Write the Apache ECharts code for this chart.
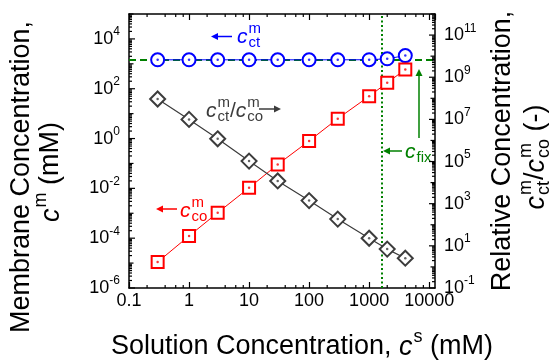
<!DOCTYPE html>
<html>
<head>
<meta charset="utf-8">
<script src="https://cdn.jsdelivr.net/npm/echarts@6/dist/echarts.min.js"></script>
<style>
  html, body { margin: 0; padding: 0; background: #fff; }
  #main { width: 556px; height: 362px; }
</style>
</head>
<body>
<div id="main"></div>
<script>
// solution concentration c^s (mM)
const concentrations = [0.3, 1, 3, 10, 30, 100, 300, 1000, 2000, 4000];
// membrane counter-ion concentration c_ct^m (mM)
const counterIon = [1450, 1450, 1450, 1450, 1450, 1450, 1450, 1460, 1590, 2140];
// membrane co-ion concentration c_co^m (mM)
const coIon = [1.1e-5, 1.23e-4, 1.05e-3, 0.0105, 0.091, 0.80, 6.3, 50, 174, 590];
// ratio c_ct^m / c_co^m (right axis)
const ionRatio = [9.3e7, 1.0e7, 1.2e6, 1.05e5, 1.2e4, 1.4e3, 186, 23, 7, 2.6];
// c_fix guide lines
const fixLineX = 1600;
const fixLineY = 1450;

// tick labels
const xTickLabels = ['0.1', '1', '10', '100', '1000', '10000'];
const leftTickExponents = [-6, -4, -2, 0, 2, 4];
const rightTickExponents = [-1, 1, 3, 5, 7, 9, 11];
const minorSteps = [2, 3, 4, 5, 6, 7, 8, 9];
const xMinorSteps = [2, 4, 6, 8];

const BLUE = '#0000ff', RED = '#ff0000', GREEN = '#008000', GRAY = '#3c3c3c';
const FONT = '"Liberation Sans"';

const measure = document.createElement('canvas').getContext('2d');
function textWidth(t, font) { measure.font = font; return measure.measureText(t).width; }

// lay out text pieces left to right, y = 0 is the middle of the big text
// piece: {t, i} normal/italic text, or {sup, sub} stacked scripts
function richRun(pieces, size, color, ratio) {
  const small = Math.round(size * (ratio || 0.65));
  const fN = size + 'px ' + FONT, fI = 'italic ' + fN, fS = small + 'px ' + FONT;
  const kids = [];
  let x = 0;
  const txt = (t, px, py, f) => ({
    type: 'text', x: px, y: py,
    style: { text: t, font: f, fill: color, textAlign: 'left', textVerticalAlign: 'middle' }
  });
  pieces.forEach(p => {
    if (p.sup !== undefined || p.sub !== undefined) {
      let w = 0;
      if (p.sup) { kids.push(txt(p.sup, x, -size * 0.38, fS)); w = Math.max(w, textWidth(p.sup, fS)); }
      if (p.sub) { kids.push(txt(p.sub, x, size * 0.3, fS)); w = Math.max(w, textWidth(p.sub, fS)); }
      x += w;
    } else {
      const f = p.i ? fI : fN;
      kids.push(txt(p.t, x, 0, f));
      x += textWidth(p.t, f) + (p.i ? 1 : 0);
    }
  });
  return { kids: kids, width: x };
}

function label(pieces, size, color, x, y, opts) {
  opts = opts || {};
  const run = richRun(pieces, size, color, opts.ratio);
  const shift = opts.center ? -run.width / 2 : 0;
  run.kids.forEach(k => { k.x += shift; });
  return { type: 'group', x: x, y: y, rotation: opts.rotation || 0, children: run.kids, z: 100 };
}

function arrow(x1, y1, x2, y2, color) {
  const ang = Math.atan2(y2 - y1, x2 - x1), L = 7, W = 3.5;
  const bx = x2 - L * Math.cos(ang), by = y2 - L * Math.sin(ang);
  const px = -Math.sin(ang) * W, py = Math.cos(ang) * W;
  return [
    { type: 'line', z: 100, shape: { x1: x1, y1: y1, x2: bx, y2: by }, style: { stroke: color, lineWidth: 1.5 } },
    { type: 'polygon', z: 100, shape: { points: [[x2, y2], [bx + px, by + py], [bx - px, by - py]] }, style: { fill: color } }
  ];
}

// tick rows [1, value, length]
function decadeTicks(lo, hi, labelled) {
  const rows = [];
  for (let e = lo; e <= hi; e++) {
    const d = Math.pow(10, e);
    rows.push([1, d, labelled.includes(e) ? 6 : 4.5]);
    if (e < hi) minorSteps.forEach(s => rows.push([1, s * d, 3]));
  }
  return rows;
}
const leftTickRows = decadeTicks(-6, 5, leftTickExponents);
const rightTickRows = decadeTicks(-1, 12, rightTickExponents);
const xMinorRows = [];
for (let e = -1; e <= 3; e++) xMinorSteps.forEach(s => xMinorRows.push([s * Math.pow(10, e), 1]));

function yTickRenderer(side) {
  return function (params, api) {
    const cs = params.coordSys;
    const y = api.coord([1, api.value(1)])[1];
    const len = api.value(2);
    const x0 = side === 'left' ? cs.x : cs.x + cs.width;
    const x1 = side === 'left' ? x0 + len : x0 - len;
    return { type: 'line', shape: { x1: x0, y1: y, x2: x1, y2: y }, style: { stroke: '#000', lineWidth: 1.2 } };
  };
}
function yLabelRenderer(side) {
  return function (params, api) {
    const cs = params.coordSys;
    const y = api.coord([1, api.value(1)])[1];
    const run = richRun([{ t: '10' }, { sup: String(api.value(2)) }], 18, '#000', 0.67);
    const x = side === 'left' ? cs.x - 9 - run.width : cs.x + cs.width + 9;
    return { type: 'group', x: x, y: y, children: run.kids };
  };
}
function xMinorRenderer(params, api) {
  const cs = params.coordSys;
  const x = api.coord([api.value(0), 1])[0];
  const b = cs.y + cs.height;
  return {
    type: 'group', children: [
      { type: 'line', shape: { x1: x, y1: b, x2: x, y2: b - 3 }, style: { stroke: '#000', lineWidth: 1.2 } },
      { type: 'line', shape: { x1: x, y1: cs.y, x2: x, y2: cs.y + 3 }, style: { stroke: '#000', lineWidth: 1.2 } }
    ]
  };
}

const frameLine = { show: true, onZero: false, lineStyle: { color: '#000', width: 1.5 } };

const chart = echarts.init(document.getElementById('main'));
chart.setOption({
  animation: false,
  backgroundColor: '#fff',
  grid: { left: 129, right: 121, top: 14, bottom: 74 },
  xAxis: [{
    type: 'log', min: 0.1, max: 12500,
    axisLine: frameLine,
    axisTick: { show: true, inside: true, length: 6, lineStyle: { color: '#000', width: 1.2 } },
    axisLabel: {
      color: '#000', fontSize: 18, fontFamily: 'Liberation Sans', margin: 4, showMaxLabel: false,
      formatter: function (v) {
        const e = Math.log10(v), r = Math.round(e);
        if (Math.abs(e - r) > 1e-6) return '';
        return xTickLabels[r + 1] || '';
      }
    },
    splitLine: { show: false }
  }, {
    type: 'log', min: 0.1, max: 12500, position: 'top',
    axisLine: frameLine,
    axisTick: { show: true, inside: true, length: 6, lineStyle: { color: '#000', width: 1.2 } },
    axisLabel: { show: false },
    splitLine: { show: false }
  }],
  yAxis: [{
    type: 'log', min: 1e-6, max: 1e5, position: 'left',
    axisLine: frameLine, axisTick: { show: false }, axisLabel: { show: false }, splitLine: { show: false }
  }, {
    type: 'log', min: 0.1, max: 1e12, position: 'right',
    axisLine: frameLine, axisTick: { show: false }, axisLabel: { show: false }, splitLine: { show: false }
  }],
  series: [
    {
      // c_fix guide lines
      type: 'line', data: [], z: 1,
      markLine: {
        silent: true, z: 1, symbol: ['none', 'none'], label: { show: false },
        lineStyle: { color: GREEN },
        data: [
          { yAxis: fixLineY, lineStyle: { color: GREEN, type: [7, 4], width: 2 } },
          { xAxis: fixLineX, lineStyle: { color: GREEN, type: [2, 2.5], width: 2 } }
        ]
      }
    },
    {
      type: 'line', z: 3, yAxisIndex: 0,
      data: concentrations.map((x, i) => [x, counterIon[i]]),
      symbol: 'circle', symbolSize: 13,
      lineStyle: { color: BLUE, width: 1 },
      itemStyle: { color: '#fff', borderColor: BLUE, borderWidth: 2 }
    },
    {
      type: 'scatter', z: 4, yAxisIndex: 0, silent: true,
      data: concentrations.map((x, i) => [x, counterIon[i]]),
      symbol: 'circle', symbolSize: 2.5, itemStyle: { color: BLUE }
    },
    {
      type: 'line', z: 3, yAxisIndex: 0,
      data: concentrations.map((x, i) => [x, coIon[i]]),
      symbol: 'rect', symbolSize: 12,
      lineStyle: { color: RED, width: 1 },
      itemStyle: { color: '#fff', borderColor: RED, borderWidth: 2 }
    },
    {
      type: 'scatter', z: 4, yAxisIndex: 0, silent: true,
      data: concentrations.map((x, i) => [x, coIon[i]]),
      symbol: 'circle', symbolSize: 2.5, itemStyle: { color: RED }
    },
    {
      type: 'line', z: 3, yAxisIndex: 1,
      data: concentrations.map((x, i) => [x, ionRatio[i]]),
      symbol: 'diamond', symbolSize: 15,
      lineStyle: { color: GRAY, width: 1.2 },
      itemStyle: { color: '#fff', borderColor: GRAY, borderWidth: 2 }
    },
    {
      type: 'scatter', z: 4, yAxisIndex: 1, silent: true,
      data: concentrations.map((x, i) => [x, ionRatio[i]]),
      symbol: 'circle', symbolSize: 2.5, itemStyle: { color: GRAY }
    },
    // axis ticks and labels
    { type: 'custom', silent: true, clip: false, z: 5, xAxisIndex: 0, yAxisIndex: 0, data: xMinorRows, renderItem: xMinorRenderer },
    { type: 'custom', silent: true, clip: false, z: 5, yAxisIndex: 0, data: leftTickRows, renderItem: yTickRenderer('left') },
    { type: 'custom', silent: true, clip: false, z: 5, yAxisIndex: 1, data: rightTickRows, renderItem: yTickRenderer('right') },
    { type: 'custom', silent: true, clip: false, z: 5, yAxisIndex: 0, data: leftTickExponents.map(e => [1, Math.pow(10, e), e]), renderItem: yLabelRenderer('left') },
    { type: 'custom', silent: true, clip: false, z: 5, yAxisIndex: 1, data: rightTickExponents.map(e => [1, Math.pow(10, e), e]), renderItem: yLabelRenderer('right') }
  ],
  graphic: [
    // axis titles
    label([{ t: 'Solution Concentration, ' }, { t: 'c', i: true }, { sup: 's' }, { t: ' (mM)' }], 27, '#000', 302, 347, { center: true }),
    label([{ t: 'Membrane Concentration,' }], 27, '#000', 22, 177, { center: true, rotation: Math.PI / 2 }),
    label([{ t: 'c', i: true }, { sup: 'm' }, { t: ' (mM)' }], 27, '#000', 51, 172, { center: true, rotation: Math.PI / 2 }),
    label([{ t: 'Relative Concentration,' }], 27, '#000', 503, 151, { center: true, rotation: Math.PI / 2 }),
    label([{ t: 'c', i: true }, { sup: 'm', sub: 'ct' }, { t: '/' }, { t: 'c', i: true }, { sup: 'm', sub: 'co' }, { t: ' (-)' }],
      27, '#000', 536, 157, { center: true, rotation: Math.PI / 2 }),
    // series annotations
    label([{ t: 'c', i: true }, { sup: 'm', sub: 'ct' }], 21, BLUE, 237, 37, { ratio: 0.7 }),
    ...arrow(232, 36.5, 211, 36.5, BLUE),
    label([{ t: 'c', i: true }, { sup: 'm', sub: 'ct' }, { t: '/' }, { t: 'c', i: true }, { sup: 'm', sub: 'co' }], 21, GRAY, 206, 111, { ratio: 0.7 }),
    ...arrow(259, 109, 281, 109, GRAY),
    label([{ t: 'c', i: true }, { sup: 'm', sub: 'co' }], 21, RED, 180, 211, { ratio: 0.7 }),
    ...arrow(177, 209, 156, 209, RED),
    label([{ t: 'c', i: true }, { sub: 'fix' }], 21, GREEN, 405, 152, { ratio: 0.7 }),
    ...arrow(402, 151, 383, 151, GREEN),
    ...arrow(419, 138, 419, 69, GREEN)
  ]
});
</script>
</body>
</html>
